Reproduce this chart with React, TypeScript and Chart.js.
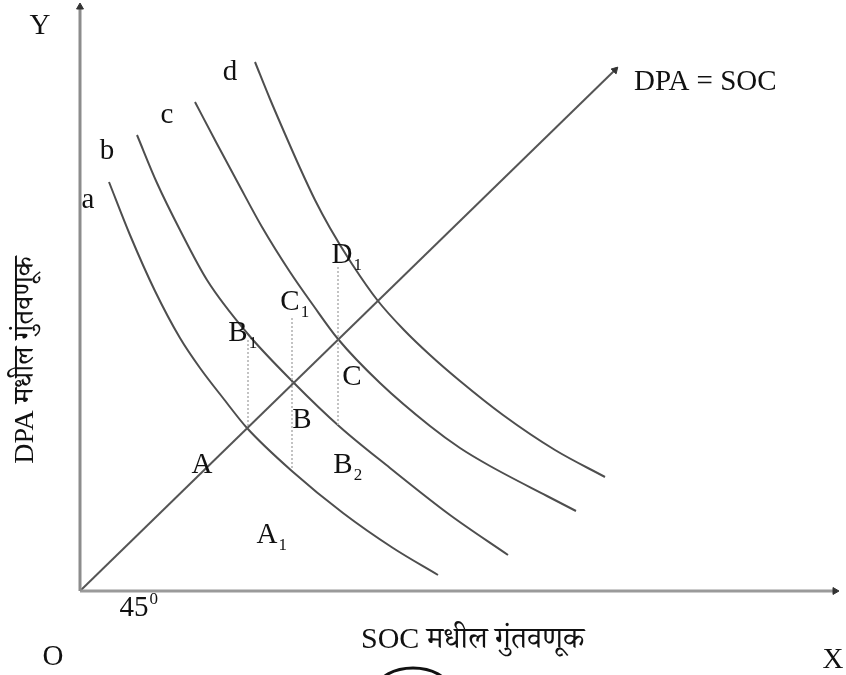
import React, { useEffect, useRef } from "react";
import { Chart, registerables } from "chart.js";

Chart.register(...registerables);

// ---- Data (investment units; origin O at 0,0) ----
const X_MAX = 755;
const Y_MAX = 584;

const curveA: number[][] = [[29, 409], [50, 356], [75, 300], [100, 253], [120, 223], [143, 193], [167, 163], [213, 119], [263, 78], [313, 43], [358, 16]];
const curveB: number[][] = [[57, 456], [77, 408], [100, 361], [127, 311], [167, 258], [214, 208], [260, 164], [310, 123], [370, 76], [428, 36]];
const curveC: number[][] = [[115, 489], [136, 449], [158, 408], [182, 364], [210, 319], [233, 286], [258, 252], [300, 208], [350, 165], [380, 143], [410, 125], [467, 95], [496, 80]];
const curveD: number[][] = [[175, 529], [190, 492], [205, 457], [220, 423], [235, 391], [250, 363], [272, 327], [298, 290], [324, 261], [350, 236], [380, 210], [423, 176], [475, 141], [525, 114]];

const line45: number[][] = [[0, 0], [535, 521]];
const xAxisLine: number[][] = [[0, 0], [X_MAX, 0]];
const yAxisLine: number[][] = [[0, 0], [0, Y_MAX]];

const dropB1: number[][] = [[168, 251], [168, 163]];
const dropC1: number[][] = [[212, 273], [212, 121]];
const dropD1: number[][] = [[258, 324], [258, 166]];

type Lbl = { t: string; sub?: string; sup?: string; x: number; y: number; align?: "left" | "center" };
const pointLabels: Lbl[] = [
  { t: "a", x: 8, y: 391 },
  { t: "b", x: 27, y: 440 },
  { t: "c", x: 87, y: 476 },
  { t: "d", x: 150, y: 519 },
  { t: "A", x: 122, y: 126 },
  { t: "A", sub: "1", x: 187, y: 56 },
  { t: "B", x: 222, y: 171 },
  { t: "B", sub: "1", x: 158, y: 258 },
  { t: "B", sub: "2", x: 263, y: 126 },
  { t: "C", x: 272, y: 214 },
  { t: "C", sub: "1", x: 210, y: 289 },
  { t: "D", sub: "1", x: 262, y: 336 },
  { t: "Y", x: -40, y: 565 },
  { t: "O", x: -27, y: -66 },
  { t: "X", x: 753, y: -69 },
  { t: "45", sup: "0", x: 54, y: -17 },
  { t: "DPA = SOC", x: 554, y: 509, align: "left" },
];
const xTitle = "SOC मधील गुंतवणूक";
const yTitle = "DPA मधील गुंतवणूक";
const xTitlePos = [281, -57];
const yTitlePos = [-54, 231];

const FONT = '"Liberation Serif", "Times New Roman", "Noto Serif Devanagari", "Noto Sans Devanagari", "Lohit Devanagari", serif';

const pts = (a: number[][]) => a.map(([x, y]) => ({ x, y }));

const App: React.FC = () => {
  const ref = useRef<HTMLCanvasElement | null>(null);

  useEffect(() => {
    if (!ref.current) return;
    const curveStyle = {
      showLine: true,
      borderColor: "#4e4e4e",
      borderWidth: 2,
      pointRadius: 0,
      cubicInterpolationMode: "monotone" as const,
      fill: false,
      clip: false as any,
    };
    const dotStyle = {
      showLine: true,
      borderColor: "#b0b0b0",
      borderWidth: 1.5,
      borderDash: [2, 2],
      pointRadius: 0,
      fill: false,
    };

    const labelPlugin = {
      id: "labels",
      afterDatasetsDraw(chart: any) {
        const { ctx } = chart;
        const xs = chart.scales.x;
        const ys = chart.scales.y;
        ctx.save();
        ctx.fillStyle = "#111";
        ctx.textBaseline = "middle";
        for (const l of pointLabels) {
          const px = xs.getPixelForValue(l.x);
          const py = ys.getPixelForValue(l.y);
          ctx.font = `29px ${FONT}`;
          const w = ctx.measureText(l.t).width;
          const left = l.align === "left" ? px : px - w / 2;
          ctx.textAlign = "left";
          ctx.fillText(l.t, left, py);
          if (l.sub) {
            ctx.font = `17px ${FONT}`;
            ctx.fillText(l.sub, left + w + 1, py + 11);
          }
          if (l.sup) {
            ctx.font = `17px ${FONT}`;
            ctx.fillText(l.sup, left + w + 1, py - 8);
          }
        }
        // axis titles
        ctx.font = `30px ${FONT}`;
        ctx.textAlign = "left";
        ctx.textBaseline = "alphabetic";
        ctx.fillText(xTitle, xs.getPixelForValue(xTitlePos[0]), ys.getPixelForValue(xTitlePos[1]));
        ctx.save();
        ctx.font = `28px ${FONT}`;
        ctx.translate(xs.getPixelForValue(yTitlePos[0]), ys.getPixelForValue(yTitlePos[1]));
        ctx.rotate(-Math.PI / 2);
        ctx.textAlign = "center";
        ctx.textBaseline = "middle";
        ctx.fillText(yTitle, 0, 0);
        ctx.restore();
        // stray arc below the title (scan artifact)
        ctx.beginPath();
        ctx.strokeStyle = "#111";
        ctx.lineWidth = 3;
        ctx.ellipse(xs.getPixelForValue(333), ys.getPixelForValue(-97), 35, 20, 0, Math.PI, 2 * Math.PI);
        ctx.stroke();
        ctx.restore();
      },
    };

    const chart = new Chart(ref.current, {
      type: "scatter",
      data: {
        datasets: [
          { ...curveStyle, data: pts(yAxisLine), borderColor: "#8c8c8c", borderWidth: 3, pointRadius: [0, 4], pointStyle: "triangle", rotation: 0, pointBackgroundColor: "#333", pointBorderColor: "#333", pointBorderWidth: 1 } as any,
          { ...curveStyle, data: pts(xAxisLine), borderColor: "#9a9a9a", borderWidth: 3, pointRadius: [0, 4], pointStyle: "triangle", rotation: 90, pointBackgroundColor: "#333", pointBorderColor: "#333", pointBorderWidth: 1 } as any,
          { ...curveStyle, data: pts(line45), borderColor: "#555", borderWidth: 2, pointRadius: [0, 4], pointStyle: "triangle", rotation: 44, pointBackgroundColor: "#333", pointBorderColor: "#333", pointBorderWidth: 1 } as any,
          { ...dotStyle, data: pts(dropB1) },
          { ...dotStyle, data: pts(dropC1) },
          { ...dotStyle, data: pts(dropD1) },
          { ...curveStyle, data: pts(curveA) },
          { ...curveStyle, data: pts(curveB) },
          { ...curveStyle, data: pts(curveC) },
          { ...curveStyle, data: pts(curveD) },
        ],
      },
      options: {
        responsive: false,
        animation: false,
        events: [],
        layout: { padding: { left: 80, top: 7, right: 11, bottom: 84 } },
        scales: {
          x: { type: "linear", min: 0, max: X_MAX, display: false },
          y: { type: "linear", min: 0, max: Y_MAX, display: false },
        },
        plugins: { legend: { display: false }, tooltip: { enabled: false } },
      },
      plugins: [labelPlugin],
    });
    return () => chart.destroy();
  }, []);

  return (
    <div style={{ position: "absolute", left: 0, top: 0, width: 846, height: 675, background: "#fff" }}>
      <canvas ref={ref} width={846} height={675} style={{ width: 846, height: 675 }} />
    </div>
  );
};

export default App;
